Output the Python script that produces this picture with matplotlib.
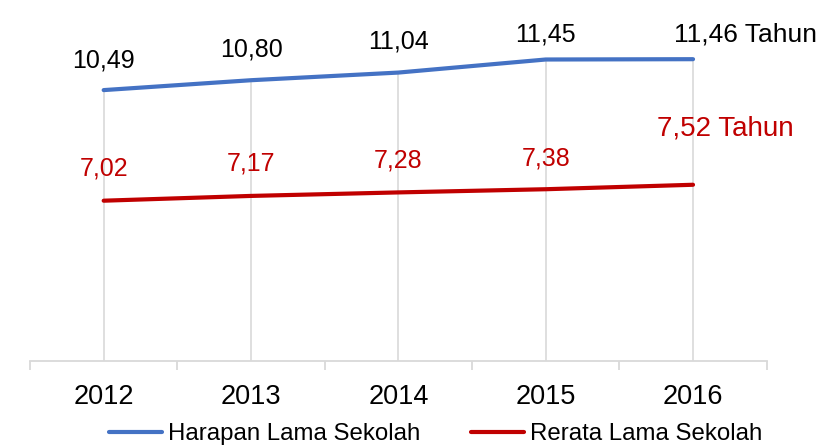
import matplotlib.pyplot as plt
import numpy as np

plt.rcParams['font.family'] = ['Liberation Sans', 'DejaVu Sans']

# Data
tahun = ['2012', '2013', '2014', '2015', '2016']
harapan_lama_sekolah = [10.49, 10.80, 11.04, 11.45, 11.46]
rerata_lama_sekolah = [7.02, 7.17, 7.28, 7.38, 7.52]
label_harapan = ['10,49', '10,80', '11,04', '11,45', '11,46 Tahun']
label_rerata = ['7,02', '7,17', '7,28', '7,38', '7,52 Tahun']

# label offsets (pixels) relative to the point: (dx, dy, ha, size)
off_harapan = [(0, 23, 'center', 18), (0, 24, 'center', 18), (0, 24, 'center', 18),
               (0, 18, 'center', 18), (-19, 18, 'left', 19)]
off_rerata = [(0, 25, 'center', 18), (0, 25, 'center', 18), (0, 25, 'center', 18),
              (0, 24, 'center', 18), (-36, 49, 'left', 20)]

biru = '#4472C4'
merah = '#C00000'
abu = '#D9D9D9'

fig = plt.figure(figsize=(8.22, 4.45), dpi=100)
ax = fig.add_axes([30 / 822, 1 - 360.7 / 445, (766.7 - 30) / 822, (360.7 - 10.1) / 445])

x = np.arange(len(tahun))
ymin, ymax = 2, 13

# drop lines from the highest point down to the axis
tinggi = np.maximum(harapan_lama_sekolah, rerata_lama_sekolah)
ax.vlines(x, ymin, tinggi, colors=abu, linewidth=1.2, zorder=1)

ax.plot(x, harapan_lama_sekolah, color=biru, linewidth=3, solid_capstyle='round',
        label='Harapan Lama Sekolah', zorder=3)
ax.plot(x, rerata_lama_sekolah, color=merah, linewidth=3, solid_capstyle='round',
        label='Rerata Lama Sekolah', zorder=3)

for xi, yi, teks, (dx, dy, ha, fs) in zip(x, harapan_lama_sekolah, label_harapan, off_harapan):
    ax.annotate(teks, (xi, yi), xytext=(dx, dy), textcoords='offset pixels',
                ha=ha, va='baseline', fontsize=fs, color='black', annotation_clip=False)
for xi, yi, teks, (dx, dy, ha, fs) in zip(x, rerata_lama_sekolah, label_rerata, off_rerata):
    ax.annotate(teks, (xi, yi), xytext=(dx, dy), textcoords='offset pixels',
                ha=ha, va='baseline', fontsize=fs, color=merah, annotation_clip=False)

ax.set_xlim(-0.5, len(tahun) - 0.5)
ax.set_ylim(ymin, ymax)

for s in ['top', 'right', 'left']:
    ax.spines[s].set_visible(False)
ax.spines['bottom'].set_color(abu)
ax.spines['bottom'].set_linewidth(1.3)
ax.set_yticks([])

ax.set_xticks(x)
ax.set_xticklabels(tahun, fontsize=19.5)
ax.tick_params(axis='x', which='major', length=0, pad=17)
ax.set_xticks(np.arange(len(tahun) + 1) - 0.5, minor=True)
ax.tick_params(axis='x', which='minor', length=6.5, width=1.3, color=abu, direction='out')

fig.legend(loc='center', bbox_to_anchor=(0.530, 1 - 434 / 445), ncol=2, frameon=False,
           fontsize=17.3, handlelength=2.2, handletextpad=0.25, columnspacing=2.1,
           borderpad=0, borderaxespad=0)

fig.savefig('out.png', dpi=100)
